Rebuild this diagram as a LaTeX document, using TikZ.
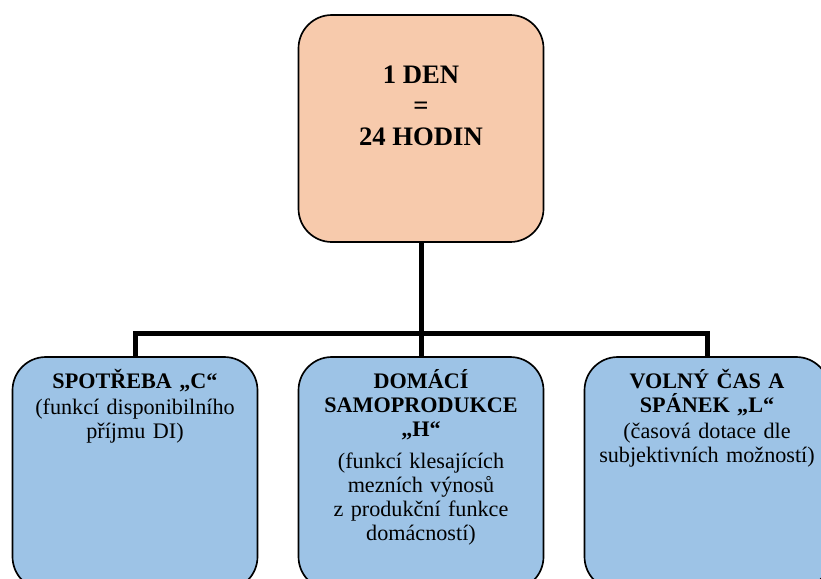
\documentclass[tikz,border=0pt]{standalone}
\usepackage{fontspec}
\setmainfont{Liberation Serif}
\usepackage{tikz}
\usetikzlibrary{positioning}
\definecolor{peach}{HTML}{F7CAAC}
\definecolor{skyblue}{HTML}{9DC3E6}

\begin{document}
\begin{tikzpicture}[x=0.6pt, y=-0.6pt,
    box/.style={draw=black, line width=1pt, rounded corners=20pt, inner sep=0pt,
      minimum width=147pt},
    topbox/.style={box, fill=peach, minimum height=136.2pt},
    subbox/.style={box, fill=skyblue, minimum height=139.8pt},
    toptext/.style={anchor=north, inner sep=0pt, align=center,
      font=\fontsize{16}{18.6}\selectfont\bfseries},
    subtext/.style={anchor=north, inner sep=0pt, align=center, text width=140pt,
      font=\fontsize{13.3}{14.4}\selectfont},
    wire/.style={line width=3pt}]
  \useasboundingbox (0,0) rectangle (821,578);
  \clip (0,0) rectangle (821,578);

  % boxes
  \node[topbox] (day) at (421,128.5) {};
  \node[subbox] (spend) at (135,473.5) {};
  \node[subbox] (home) at (421,473.5) {};
  \node[subbox] (leisure) at (707,473.5) {};

  % texts
  \node[toptext] (daytext) at (421,66) {1 DEN\\=\\24 HODIN};
  \node[subtext] (spendtext) at (135,369)
    {\textbf{SPOTŘEBA „C“}\\[1.2pt](funkcí disponibilního\\příjmu DI)};
  \node[subtext] (hometext) at (421,369)
    {\textbf{DOMÁCÍ}\\\textbf{SAMOPRODUKCE}\\\textbf{„H“}\\[4.8pt](funkcí klesajících\\mezních výnosů\\z produkční funkce\\domácností)};
  \node[subtext] (leisuretext) at (707,369)
    {\textbf{VOLNÝ ČAS A}\\\textbf{SPÁNEK „L“}\\[1.2pt](časová dotace dle\\subjektivních možností)};

  % connectors
  \coordinate (fork) at (421,333);
  \draw[wire] (day.south) -- (fork);
  \draw[wire] (spend.north) |- (fork) -| (leisure.north);
  \draw[wire] (fork) -- (home.north);
\end{tikzpicture}
\end{document}
